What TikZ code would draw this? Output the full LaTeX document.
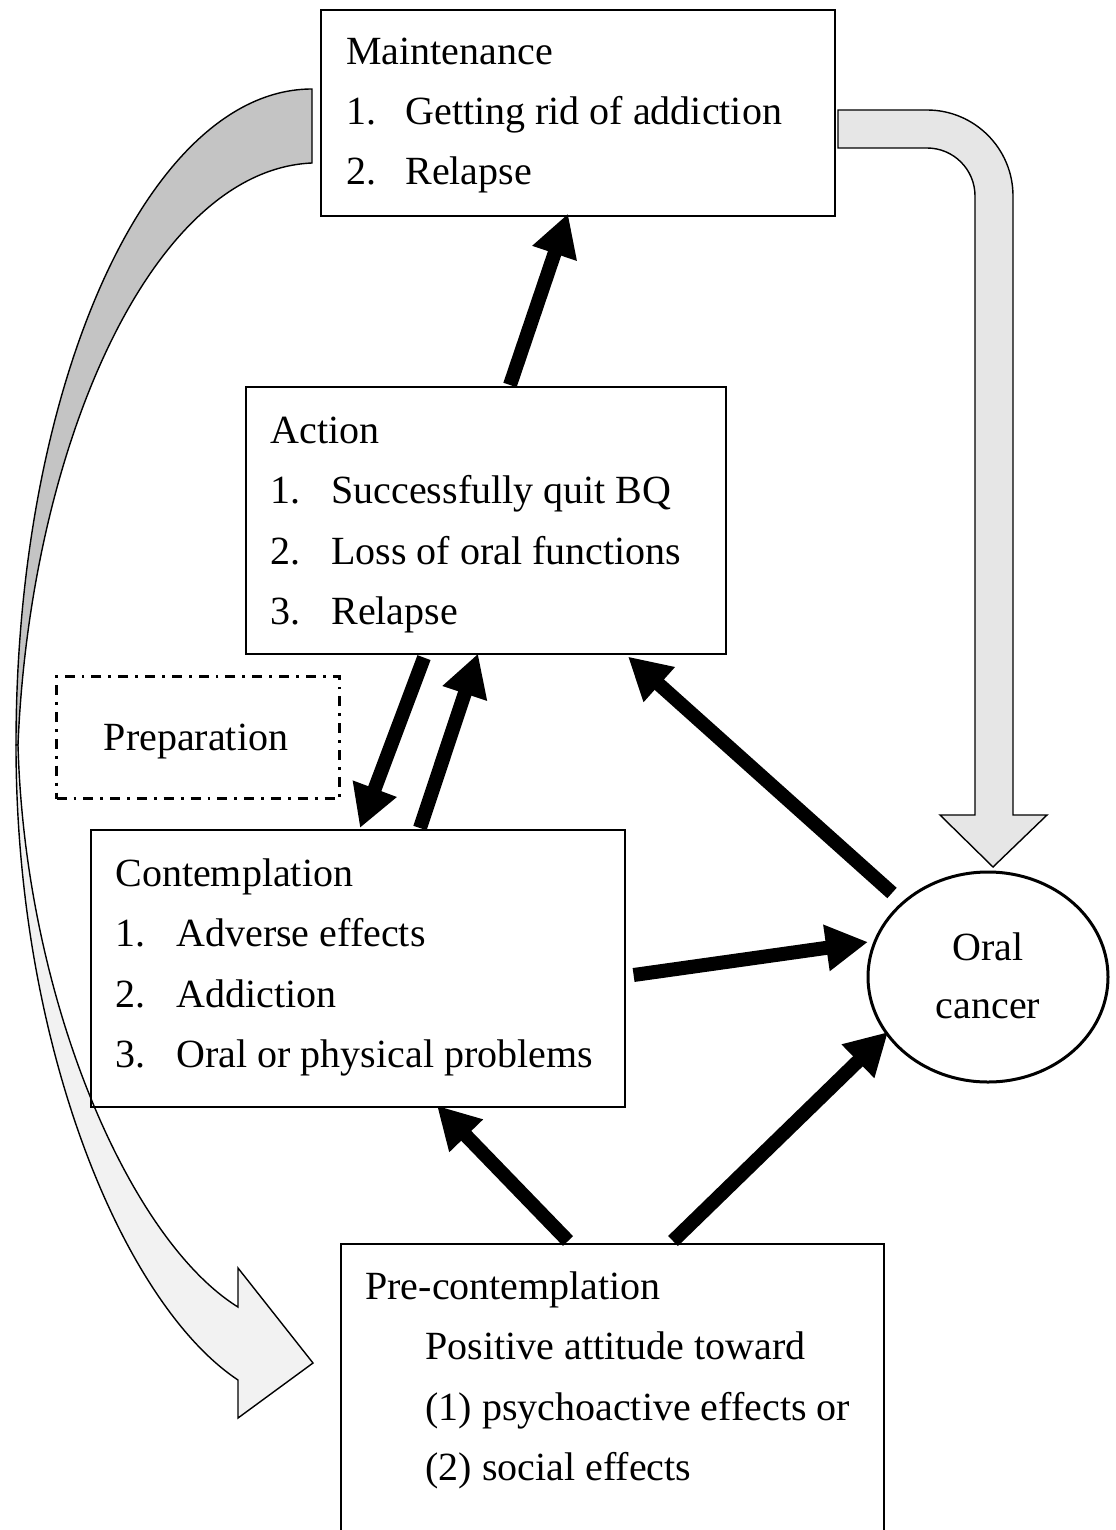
\documentclass[tikz,border=0pt]{standalone}
\usepackage{fontspec}
\setmainfont{Liberation Serif}
\usetikzlibrary{arrows.meta,calc,shapes.geometric}
\definecolor{gdark}{HTML}{C4C4C4}
\definecolor{glight}{HTML}{F2F2F2}
\definecolor{gmid}{HTML}{E6E6E6}
\begin{document}
\begin{tikzpicture}[x=0.5pt,y=-0.5pt,
  box/.style={draw, line width=0.8pt, inner sep=0pt, anchor=north west},
  txt/.style={anchor=base west, inner sep=0pt, font=\fontsize{20}{24}\selectfont},
  ctxt/.style={anchor=base, inner sep=0pt, font=\fontsize{20}{24}\selectfont},
  blk/.style={line width=7pt, -{Triangle[length=21pt,width=22pt]}},
  band/.style={draw, line width=0.7pt, line join=miter}
]
\useasboundingbox (0,0) rectangle (1115,1530);
\clip (0,0) rectangle (1115,1530);

% grey curved arrow (left)
\path[band, fill=gdark] (312,89) .. controls (149,89) and (16,383) .. (16,745)
  -- (18,745) .. controls (30,450) and (150,170) .. (312,163) -- cycle;
\path[band, fill=glight] (16,745) .. controls (16,1050) and (125,1305) .. (238,1380)
  -- (238,1418) -- (313,1363) -- (238,1268) -- (238,1307)
  .. controls (130,1240) and (25,1000) .. (18,745) -- cycle;

% grey bent arrow (right)
\path[band, fill=gmid] (838,110) -- (927,110) arc (-90:0:86) -- (1013,815) -- (1047,815)
  -- (993,867) -- (940,815) -- (975,815) -- (975,196) arc (0:-90:48) -- (838,148) -- cycle;

% boxes
\node[box, minimum width=257pt, minimum height=103pt] (maint) at (320,9) {};
\node[box, minimum width=240pt, minimum height=133.5pt] (act) at (245,386) {};
\node[box, minimum width=267pt, minimum height=138.5pt] (cont) at (90,829) {};
\node[box, minimum width=271.5pt, minimum height=152pt] (pre) at (340,1243) {};
\node[box, line width=1.5pt, dash pattern=on 5pt off 3.5pt on 1.4pt off 3.5pt,
  minimum width=141.5pt, minimum height=61pt] (prep) at (55,675) {};
\node[draw, ellipse, line width=1.5pt, minimum width=120pt, minimum height=105pt,
  inner sep=0pt] (oral) at (988,977) {};

% texts
\node[txt] (mt0) at (346,65) {Maintenance};
\node[txt] (mn1) at (346,125) {1.};
\node[txt] (mt1) at (405,125) {Getting rid of addiction};
\node[txt] (mn2) at (346,185) {2.};
\node[txt] (mt2) at (405,185) {Relapse};

\node[txt] (at0) at (270,443) {Action};
\node[txt] (an1) at (270,503) {1.};
\node[txt] (at1) at (331,503) {Successfully quit BQ};
\node[txt] (an2) at (270,564) {2.};
\node[txt] (at2) at (331,564) {Loss of oral functions};
\node[txt] (an3) at (270,624) {3.};
\node[txt] (at3) at (331,624) {Relapse};

\node[ctxt] (pt0) at (196,750) {Preparation};

\node[txt] (ct0) at (115,886) {Contemplation};
\node[txt] (cn1) at (115,946) {1.};
\node[txt] (ct1) at (176,946) {Adverse effects};
\node[txt] (cn2) at (115,1007) {2.};
\node[txt] (ct2) at (176,1007) {Addiction};
\node[txt] (cn3) at (115,1067) {3.};
\node[txt] (ct3) at (176,1067) {Oral or physical problems};

\node[txt] (rt0) at (365,1299) {Pre-contemplation};
\node[txt] (rt1) at (425,1359) {Positive attitude toward};
\node[txt] (rt2) at (425,1420) {(1) psychoactive effects or};
\node[txt] (rt3) at (425,1480) {(2) social effects};

\node[ctxt] (ot0) at (988,960) {Oral};
\node[ctxt] (ot1) at (988,1018) {cancer};

% black arrows
\draw[blk] ($(act.north west)+(265,-1)$) -- ($(maint.south west)+(248,-3)$);
\draw[blk] ($(act.south west)+(179,3)$) -- ($(cont.north west)+(270,-1)$);
\draw[blk] ($(cont.north west)+(330,-1)$) -- ($(act.south west)+(233,-1)$);
\draw[blk] ($(oral.center)+(-96,-84)$) -- ($(act.south west)+(383,2)$);
\draw[blk] ($(cont.north east)+(8,146)$) -- ($(oral.center)+(-120,-35)$);
\draw[blk] ($(pre.north west)+(228,-2)$) -- ($(cont.south west)+(347,-2)$);
\draw[blk] ($(pre.north west)+(333,-2)$) -- ($(oral.center)+(-100,55)$);
\end{tikzpicture}
\end{document}
